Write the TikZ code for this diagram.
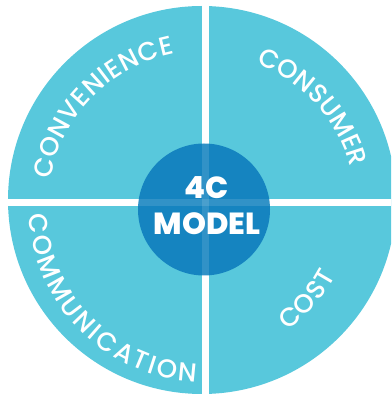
\documentclass[tikz,border=0pt]{standalone}
\usepackage{fontspec}
\setmainfont{Poppins}
\newfontfamily\medfont{Poppins Medium}
\newfontfamily\heavyfont{Poppins ExtraBold}
\usetikzlibrary{decorations.text}

\definecolor{cuarto}{HTML}{58C8DC}
\definecolor{centro}{HTML}{1584C0}
\newcommand\arcfont{\medfont\fontsize{26}{30}\selectfont}

\tikzset{
  etiqueta/.style={decorate,decoration={text along path,text={|\arcfont|#1},
    text color=white,text align={fit to path}}},
  hueco/.style={white,line width=7pt},
}

\begin{document}
\begin{tikzpicture}[x=1pt,y=1pt]
%\draw[help lines,step=20] (0,0) grid (391,396);
\useasboundingbox (0,0) rectangle (391,396);
\clip (0,0) rectangle (391,396);

\coordinate (O) at (202,196);
\coordinate (T) at (204,189);
\coordinate (M) at (204,186.5);

\fill[cuarto] (O) circle (194);
\draw[hueco] (205.5,0) -- (205.5,396);
\draw[hueco] (0,193) -- (391,193);
\fill[centro] (M) circle (66);
\draw[hueco,opacity=.12] (205.5,120) -- (205.5,253);
\draw[hueco,opacity=.12] (138,193) -- (270,193);

\path[etiqueta=CONVENIENCE] (T) ++(170:156) arc[start angle=170,end angle=101,radius=156];
\path[etiqueta=CONSUMER] (T) ++(70:152) arc[start angle=70,end angle=16.5,radius=152];
\path[etiqueta=COMMUNICATION] (T) ++(182.5:175) arc[start angle=182.5,end angle=267.5,radius=175];
\path[etiqueta=COST] (T) ++(-56:148.5) arc[start angle=-56,end angle=-27.5,radius=148.5];

\node[white,align=center,font=\heavyfont\fontsize{30.5}{36}\selectfont] (modelo) at (207,190) {4C\\MODEL};

\end{tikzpicture}
\end{document}
